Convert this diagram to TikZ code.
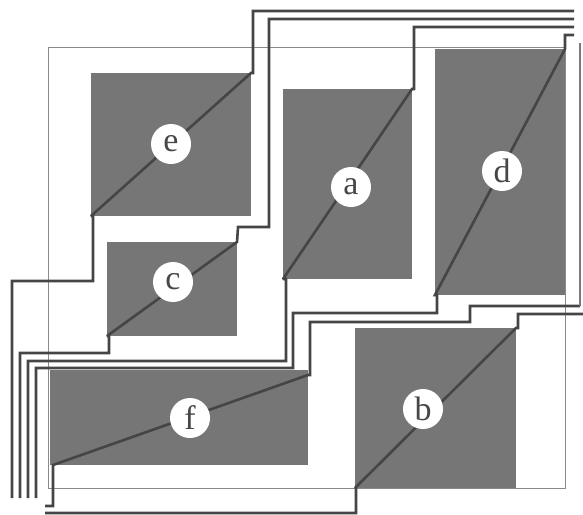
\documentclass[tikz,border=0pt]{standalone}
\usepackage{fontspec}
\setmainfont{Liberation Serif}
\definecolor{cellgrey}{HTML}{767676}
\definecolor{wiregrey}{HTML}{454545}
\definecolor{sidegrey}{HTML}{7A7A7A}
\definecolor{framegrey}{HTML}{8A8A8A}
\tikzset{
  cell/.style={fill=cellgrey,draw=none,inner sep=0pt,outer sep=0pt,anchor=north west},
  wire/.style={draw=wiregrey,line width=2.6pt,line join=miter,miter limit=2},
  frameline/.style={draw=framegrey,line width=1pt},
  tag/.style={circle,fill=white,draw=none,minimum size=40pt,inner sep=0pt,font=\fontsize{34}{34}\selectfont,text=black!72}
}
\begin{document}
\begin{tikzpicture}[x=1pt,y=-1pt]
\useasboundingbox (0,0) rectangle (583,514);
\fill[white] (0,0) rectangle (583,514);
% frame
\coordinate (fa) at (48,47);
\coordinate (fb) at (565,488);
\draw[frameline] (fa) rectangle (fb);
% cells
\node[cell,minimum width=160pt,minimum height=143pt] (e) at (91,73) {};
\node[cell,minimum width=130pt,minimum height=94pt] (c) at (107,242) {};
\node[cell,minimum width=129pt,minimum height=190pt] (a) at (283,89) {};
\node[cell,minimum width=130pt,minimum height=246pt] (d) at (435,49) {};
\node[cell,minimum width=258pt,minimum height=95pt] (f) at (50,370) {};
\node[cell,minimum width=161pt,minimum height=160pt] (b) at (355,328) {};
% free ends
\coordinate (eU) at (574,11);
\coordinate (cU) at (574,19);
\coordinate (aU) at (574,27);
\coordinate (dU) at (574,35);
\coordinate (eL) at (12,498);
\coordinate (cL) at (20,498);
\coordinate (aL) at (28,498);
\coordinate (dL) at (36,498);
\coordinate (fR) at (580,306);
\coordinate (fT) at (580,43);
\coordinate (bR) at (583,314);
\coordinate (fL) at (45,506);
\coordinate (bL) at (45,513);
% wires
\draw[wire] (eL) |- (93,281) -- (93,216) -- (e.south west) -- (e.north east) -- (253,73) -- (253,11) -- (eU);
\draw[wire] (cL) |- (109,353) -- (109,336) -- (c.south west) -- (c.north east) -- (238,227) -- (269,227) -- (269,19) -- (cU);
\draw[wire] (aL) |- (286,361) -- (286,279) -- (a.south west) -- (a.north east) -- (414,89) -- (414,27) -- (aU);
\draw[wire] (dL) |- (293,368) -- (293,313) -- (437,313) -- (437,295) -- (d.south west) -- (d.north east) -- (565,35) -- (dU);
\draw[wire] (fL) -- (53,506) -- (53,465) -- (308,375) -- (310,375) -- (310,322) -- (470,322) -- (470,306) -- (fR);
\draw[wire,draw=sidegrey] (fR) -- (fT);
\draw[wire] (bL) -- (356,513) -- (356,488) -- (b.south west) -- (b.north east) -- (518,328) -- (518,314) -- (bR);
% labels
\node[tag] (te) at (171,144) {e};
\node[tag] (ta) at (351,187) {a};
\node[tag] (td) at (502,171) {d};
\node[tag] (tc) at (173,282) {c};
\node[tag] (tf) at (190,418) {f};
\node[tag] (tb) at (423,409) {b};
\end{tikzpicture}
\end{document}
